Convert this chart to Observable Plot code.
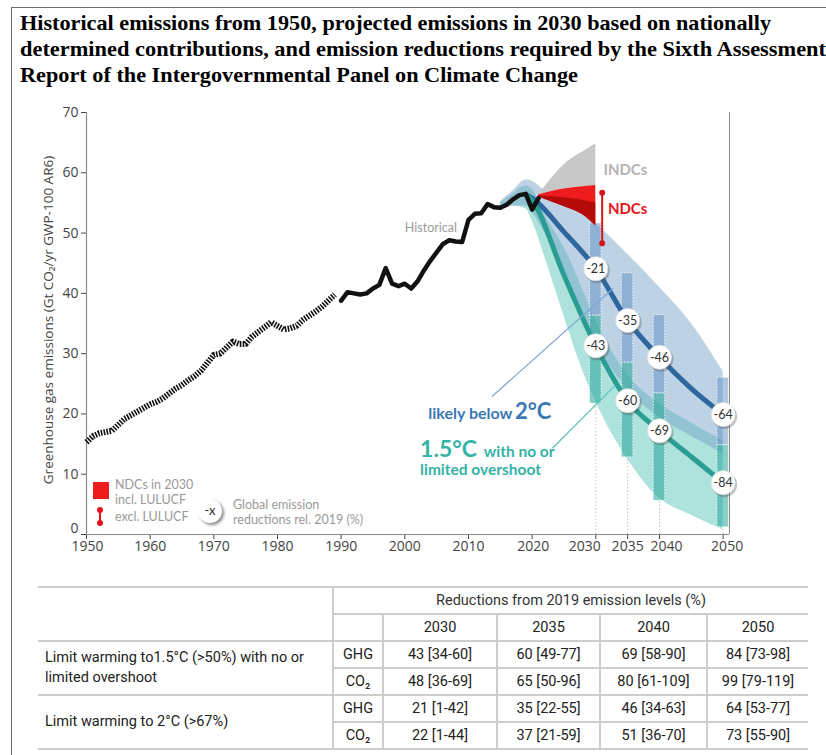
<!DOCTYPE html>
<html><head><meta charset="utf-8">
<script src="https://cdn.jsdelivr.net/npm/d3@7"></script>
<script src="https://cdn.jsdelivr.net/npm/@observablehq/plot@0.6"></script>
<style>
body{margin:0;width:826px;height:755px;overflow:hidden;background:#fff;position:relative;font-family:"Open Sans",sans-serif}
#frame{position:absolute;left:11px;top:7px;width:900px;height:800px;border-left:1.5px solid #6d6d6d;border-top:1.5px solid #6d6d6d}
#title{position:absolute;left:20px;top:10px;font-family:"Liberation Serif",serif;font-weight:bold;font-size:22px;line-height:26px;color:#000}
#title div{white-space:nowrap;transform-origin:0 0;width:max-content}
#chart{position:absolute;left:0;top:100px}
#ylab{position:absolute;left:48px;top:320px;transform:translate(-50%,-50%) rotate(-90deg);font-family:"Open Sans",sans-serif;font-size:13.5px;color:#444;white-space:nowrap}
.lg{position:absolute;font-family:Lato,sans-serif;font-size:12.5px;line-height:13px;color:#9a9a9a;white-space:nowrap}
#tbl{position:absolute;left:38px;top:586px;width:770px;border-collapse:collapse;table-layout:fixed;font-family:Roboto,sans-serif;font-size:14.5px;color:#222}
#tbl td{padding:0;height:25px;text-align:center;border:2px solid #cdcdcd;border-left:none;border-right:none;white-space:nowrap;overflow:hidden}
#tbl td.v{border-left:2px solid #cdcdcd}
#tbl td.lab{text-align:left;padding-left:7px;line-height:20px;white-space:normal}
</style></head>
<body>
<div id="frame"></div>
<div id="title">
<div data-w="751">Historical emissions from 1950, projected emissions in 2030 based on nationally</div>
<div data-w="806">determined contributions, and emission reductions required by the Sixth Assessment</div>
<div data-w="558">Report of the Intergovernmental Panel on Climate Change</div>
</div>
<div id="chart"></div>
<div id="ylab"></div>

<div style="position:absolute;left:93px;top:482px;width:16px;height:17px;background:#ee1c1c"></div>
<div class="lg" style="left:115px;top:478px">NDCs in 2030</div>
<div class="lg" style="left:115px;top:493px">incl. LULUCF</div>
<div style="position:absolute;left:99px;top:510px;width:2px;height:13px;background:#e3141b"></div>
<div style="position:absolute;left:97px;top:507px;width:6px;height:6px;border-radius:50%;background:#e3141b"></div>
<div style="position:absolute;left:97px;top:520px;width:6px;height:6px;border-radius:50%;background:#e3141b"></div>
<div class="lg" style="left:115px;top:510px">excl. LULUCF</div>
<div style="position:absolute;left:198px;top:499px;width:24px;height:24px;border-radius:50%;background:#fff;box-shadow:2px 2px 3px rgba(0,0,0,.45);font-family:Lato,sans-serif;font-size:13px;line-height:23px;text-align:center;color:#333">-x</div>
<div class="lg" style="left:233px;top:498px">Global emission</div>
<div class="lg" style="left:233px;top:513px">reductions rel. 2019 (%)</div>

<table id="tbl">
<colgroup><col style="width:295px"><col style="width:50px"><col style="width:114px"><col style="width:103px"><col style="width:107px"><col style="width:101px"></colgroup>
<tbody id="tb"></tbody>
</table>

<script>
// ---------------- data ----------------
const histYears = d3.range(1950, 2022);
const histValues = [
  15.3,16.3,16.8,17.0,17.2,18.2,19.2,19.8,20.4,21.0,
  21.6,22.0,22.6,23.4,24.2,24.8,25.6,26.3,27.2,28.5,
  29.8,30.0,31.0,32.0,31.6,31.6,32.8,33.6,34.4,35.2,
  34.6,34.0,34.2,34.6,35.6,36.3,37.0,37.8,38.8,39.8,
  38.8,40.2,40.0,39.8,40.0,40.8,41.4,44.2,41.6,41.2,
  41.6,40.8,42.0,43.8,45.4,46.8,48.2,48.8,48.6,48.5,
  52.2,53.2,53.3,54.8,54.3,54.2,54.7,55.6,56.3,56.5,
  53.9,55.8];
const splitYear = 1990; // estimates before, solid after

const blueBandYears = [2015,2017,2019,2020,2022,2025,2030,2035,2040,2045,2050];
const blueBandLow   = [53.6,54.5,54.5,53.5,50.0,44.0,32.0,24.0,19.4,16.3,13.4];
const blueBandHigh  = [55.2,57.0,58.8,58.6,57.0,55.0,51.5,46.5,41.0,35.0,27.0];

const tealBandYears = [2015,2017,2019,2020,2022,2024,2026,2028,2030,2035,2040,2045,2050];
const tealBandLow   = [53.8,54.5,54.0,52.0,46.0,39.5,33.0,27.0,22.0,12.5,6.0,3.2,0.8];
const tealBandHigh  = [55.0,56.5,57.8,57.3,53.0,49.5,45.5,40.5,35.5,26.5,21.7,18.5,15.6];

const medianYears = [2019,2020,2025,2030,2035,2040,2045,2050];
const blueMedian  = [56.4,55.8,50.2,44.1,35.5,29.4,24.2,19.9];
const tealMedian  = [56.4,55.4,43.0,31.3,22.2,17.2,12.9,8.6];

const milestoneYears = [2030,2035,2040,2050];
const blueReductions = [-21,-35,-46,-64];
const tealReductions = [-43,-60,-69,-84];
const blueBarLow  = [36.3,28.5,23.4,14.8];
const blueBarHigh = [51.6,43.3,36.4,26.0];
const tealBarLow  = [21.7,12.8,5.6,1.2];
const tealBarHigh = [36.3,28.5,23.4,14.8];

const wedgeYears = [2021,2023,2025.5,2028,2030];
const indcHigh   = [56.3,59.0,61.8,63.5,64.8];
const ndcHigh    = [56.3,56.9,57.4,57.7,57.9];
const ndcLow     = [56.0,55.2,54.2,53.0,51.2];
const ndcDarkYears = [2021,2025.5,2028,2030];
const ndcDarkHigh  = [56.2,55.8,55.4,55.0];
const ndcDarkLow   = [56.0,54.2,53.0,51.2];
const ndcExclYear = 2031, ndcExclLow = 48.3, ndcExclHigh = 56.7;

const xTicks = [1950,1960,1970,1980,1990,2000,2010,2020,2030,2035,2040,2050];
const xTickLabelShift = [1,0,0,0,0,0,0,1,-11,0,7,4];
const yTicks = [0,10,20,30,40,50,60,70];

const annotations = [
  {text:"Historical", x:2004.1, y:50.1, color:"#9a9a9a", size:12.5, weight:"normal", anchor:"middle"},
  {text:"INDCs", x:2031.2, y:59.6, color:"#b3b3b3", size:15, weight:"bold", anchor:"start"},
  {text:"NDCs", x:2031.9, y:53.1, color:"#e8141b", size:15, weight:"bold", anchor:"start"},
  {text:"likely below", x:2016.9, y:19.2, color:"#3b78b2", size:16, weight:"bold", anchor:"end"},
  {text:"2°C", x:2017.3, y:19.2, color:"#3b78b2", size:22, weight:"bold", anchor:"start"},
  {text:"1.5°C", x:2002.4, y:12.8, color:"#35b3a5", size:23, weight:"bold", anchor:"start"},
  {text:"with no or", x:2012.4, y:12.8, color:"#35b3a5", size:15.5, weight:"bold", anchor:"start"},
  {text:"limited overshoot", x:2002.4, y:9.8, color:"#35b3a5", size:15.5, weight:"bold", anchor:"start"}
];
const leaders = [
  {x1:2013.7, y1:22.9, x2:2032.7, y2:40.8, color:"#7ea6cf"},
  {x1:2023.2, y1:14.3, x2:2033.0, y2:24.7, color:"#5cc3b7"}
];
const yLabel = "Greenhouse gas emissions (Gt CO₂/yr GWP-100 AR6)";

const tableHeader = "Reductions from 2019 emission levels (%)";
const tableYears = ["2030","2035","2040","2050"];
const tableGroups = ["Limit warming to1.5°C (>50%) with no or limited overshoot", "Limit warming to 2°C (>67%)"];
const tableGases = ["GHG","CO₂"];
const tableValues = [
  [["43 [34-60]","60 [49-77]","69 [58-90]","84 [73-98]"],
   ["48 [36-69]","65 [50-96]","80 [61-109]","99 [79-119]"]],
  [["21 [1-42]","35 [22-55]","46 [34-63]","64 [53-77]"],
   ["22 [1-44]","37 [21-59]","51 [36-70]","73 [55-90]"]]
];

// ---------------- build ----------------
const hist = histYears.map((y,i)=>({year:y, v:histValues[i]}));
const histEarly = hist.filter(d=>d.year < splitYear);
const histLate = hist.filter(d=>d.year >= splitYear);
const blueBand = blueBandYears.map((y,i)=>({year:y, lo:blueBandLow[i], hi:blueBandHigh[i]}));
const tealBand = tealBandYears.map((y,i)=>({year:y, lo:tealBandLow[i], hi:tealBandHigh[i]}));
const blueMed = medianYears.map((y,i)=>({year:y, v:blueMedian[i]}));
const tealMed = medianYears.map((y,i)=>({year:y, v:tealMedian[i]}));
const ms = milestoneYears.map((y,i)=>({
  year:y, bLo:blueBarLow[i], bHi:blueBarHigh[i], tLo:tealBarLow[i], tHi:tealBarHigh[i],
  bRed:blueReductions[i], tRed:tealReductions[i],
  bV: blueMedian[medianYears.indexOf(y)], tV: tealMedian[medianYears.indexOf(y)]
}));
const wedge = wedgeYears.map((y,i)=>({year:y, ih:indcHigh[i], nh:ndcHigh[i], nl:ndcLow[i]}));
const dark = ndcDarkYears.map((y,i)=>({year:y, hi:ndcDarkHigh[i], lo:ndcDarkLow[i]}));
const badges = [
  ...ms.map(d=>({year:d.year, v:d.bV, t:String(d.bRed)})),
  ...ms.map(d=>({year:d.year, v:d.tV, t:String(d.tRed)}))
];
const hw = 0.9;

const chart = Plot.plot({
  width: 826, height: 460,
  marginLeft: 86, marginRight: 97, marginTop: 12, marginBottom: 26,
  style: {fontFamily: "Open Sans", fontSize: "14px", color: "#444", background: "transparent", overflow: "visible"},
  x: {domain: [1950, 2051], ticks: xTicks, tickFormat: () => "", tickSize: 5, label: null},
  y: {domain: [0, 70], ticks: yTicks, tickFormat: () => "", tickSize: 5, label: null},
  marks: [
    Plot.ruleX([2051], {y1: 0, y2: 70, stroke: "#8a8a8a", strokeWidth: 1}),
    Plot.ruleX([1950], {y1: 0, y2: 70, stroke: "#8a8a8a", strokeWidth: 1.2}),
    Plot.ruleY([0], {x1: 1950, x2: 2051, stroke: "#8a8a8a", strokeWidth: 1.2}),
    // tick labels (some nudged apart as in the original)
    ...xTicks.map((t, i) => Plot.text([t], {x: d=>d, text: d=>String(d), frameAnchor: "bottom", dy: 16, dx: xTickLabelShift[i], fontSize: 14, fill: "#444"})),
    Plot.text(yTicks.filter(t=>t>0), {y: d=>d, text: d=>String(d), frameAnchor: "left", dx: -8, textAnchor: "end", fontSize: 14, fill: "#444"}),
    Plot.text([0], {y: d=>d, text: d=>String(d), frameAnchor: "left", dx: -8, dy: -6, textAnchor: "end", fontSize: 14, fill: "#444"}),
    // ranges
    Plot.areaY(tealBand, {x: "year", y1: "lo", y2: "hi", fill: "#4cc0b3", fillOpacity: 0.45, curve: "monotone-x"}),
    Plot.areaY(blueBand, {x: "year", y1: "lo", y2: "hi", fill: "#6f9cc8", fillOpacity: 0.45, curve: "monotone-x"}),
    // guides
    Plot.ruleX(ms, {x: "year", y1: 0, y2: "tLo", stroke: "#c4c4c4", strokeDasharray: "1.5,2"}),
    // bars
    Plot.rect(ms, {x1: d=>d.year-hw, x2: d=>d.year+hw, y1: "bLo", y2: "bHi", fill: "#5f8fbf", fillOpacity: 0.5, stroke: "#ffffff", strokeOpacity: 0.8, strokeDasharray: "1.5,1.5"}),
    Plot.rect(ms, {x1: d=>d.year-hw, x2: d=>d.year+hw, y1: "tLo", y2: "tHi", fill: "#26a598", fillOpacity: 0.55, stroke: "#ffffff", strokeOpacity: 0.8, strokeDasharray: "1.5,1.5"}),
    // medians
    Plot.line(blueMed, {x: "year", y: "v", stroke: "#2d679e", strokeWidth: 5, curve: "monotone-x"}),
    Plot.line(tealMed, {x: "year", y: "v", stroke: "#2a9e92", strokeWidth: 5, curve: "monotone-x"}),
    // leaders
    Plot.link(leaders, {x1: "x1", y1: "y1", x2: "x2", y2: "y2", stroke: d=>d.color, strokeWidth: 1.2}),
    // INDC / NDC wedges
    Plot.areaY(wedge, {x: "year", y1: "nh", y2: "ih", fill: "#c8c8c8", curve: "monotone-x"}),
    Plot.areaY(wedge, {x: "year", y1: "nl", y2: "nh", fill: "#ee1c1c", curve: "monotone-x"}),
    Plot.areaY(dark, {x: "year", y1: "lo", y2: "hi", fill: "#b50a0a", curve: "monotone-x"}),
    // historical
    Plot.line(histEarly, {x: "year", y: "v", stroke: "#111", strokeWidth: 6, strokeDasharray: "1.6,1.3", strokeLinecap: "butt"}),
    Plot.line(histLate, {x: "year", y: "v", stroke: "#111", strokeWidth: 4.5}),
    // NDC excl LULUCF
    Plot.ruleX([ndcExclYear], {y1: ndcExclLow, y2: ndcExclHigh, stroke: "#d4141b", strokeWidth: 2}),
    Plot.dot([ndcExclLow, ndcExclHigh], {x: ()=>ndcExclYear, y: d=>d, r: 3, fill: "#d4141b"}),
    // reduction badges
    Plot.dot(badges, {x: "year", y: "v", r: 12.5, fill: "#555", fillOpacity: 0.35, dx: 1.5, dy: 2}),
    Plot.dot(badges, {x: "year", y: "v", r: 12, fill: "#ffffff", stroke: "#e0e0e0", strokeWidth: 0.8}),
    Plot.text(badges, {x: "year", y: "v", text: "t", fontSize: 12.5, fill: "#333", fontFamily: "Lato", dy: 0.5}),
    // annotations
    ...annotations.map(a => Plot.text([a], {x: "x", y: "y", text: "text", fill: a.color, fontSize: a.size, fontWeight: a.weight, textAnchor: a.anchor, lineAnchor: "bottom", fontFamily: "Lato"}))
  ]
});
document.getElementById("chart").appendChild(chart);
document.getElementById("ylab").textContent = yLabel;

// title fit
document.querySelectorAll("#title div").forEach(el => {
  const w = el.getBoundingClientRect().width;
  el.style.transform = `scaleX(${(+el.dataset.w / w).toFixed(4)})`;
});

// table
const tb = document.getElementById("tb");
let html = `<tr><td rowspan="2"></td><td class="v" colspan="5" style="color:#333">${tableHeader}</td></tr>`;
html += `<tr><td class="v"></td>${tableYears.map(y=>`<td class="v">${y}</td>`).join("")}</tr>`;
tableGroups.forEach((g, gi) => {
  tableGases.forEach((gas, ri) => {
    html += "<tr>";
    if (ri === 0) html += `<td class="lab" rowspan="2">${g}</td>`;
    html += `<td class="v">${gas}</td>` + tableValues[gi][ri].map(v=>`<td class="v">${v}</td>`).join("");
    html += "</tr>";
  });
});
tb.innerHTML = html;
</script>
</body></html>
